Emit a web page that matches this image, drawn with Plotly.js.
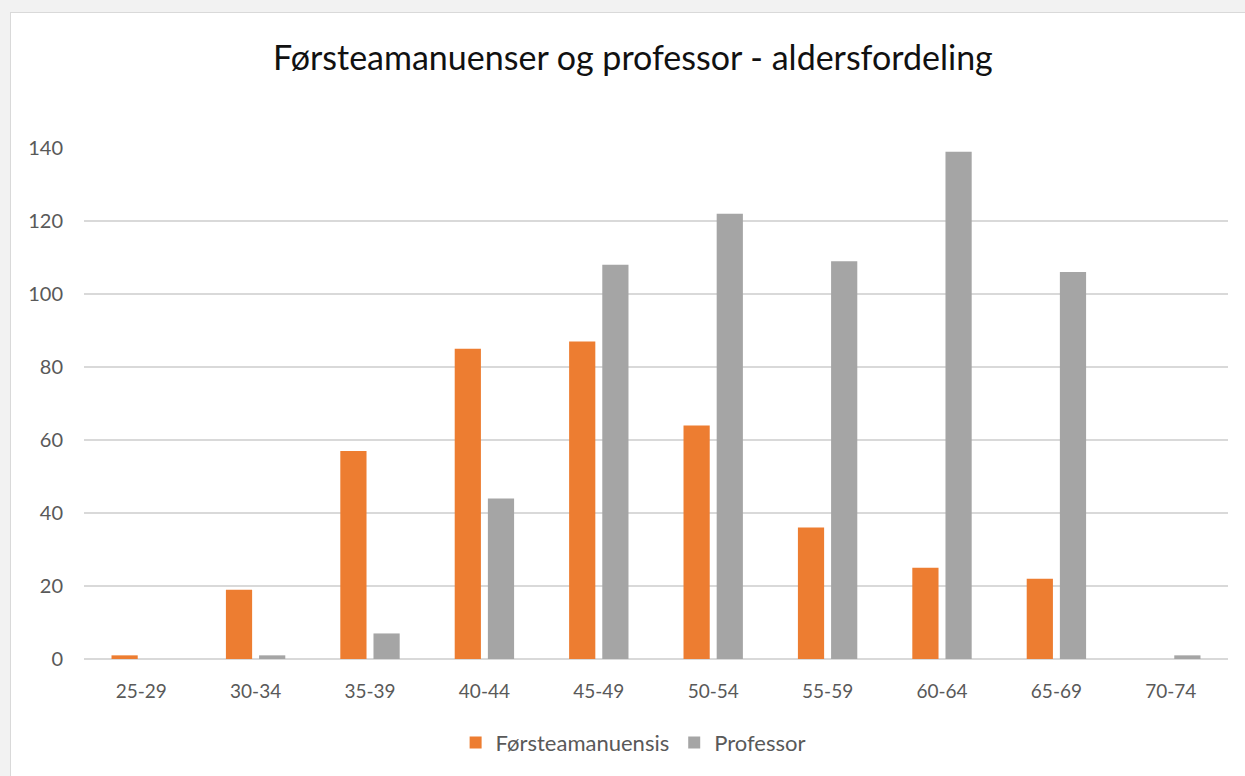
<!DOCTYPE html>
<html>
<head>
<meta charset="utf-8">
<script src="https://cdn.plot.ly/plotly-3.0.1.min.js"></script>
<style>
  html, body { margin: 0; padding: 0; background: #f2f2f2; width: 1245px; height: 776px; overflow: hidden; }
  #chart { position: absolute; left: 10px; top: 12px; width: 1235px; height: 764px; background: #ffffff;
           border-left: 1px solid #d9d9d9; border-top: 1px solid #d9d9d9; }
</style>
</head>
<body>
<div id="chart"></div>
<script>
const categories = ["25-29", "30-34", "35-39", "40-44", "45-49", "50-54", "55-59", "60-64", "65-69", "70-74"];
const forsteamanuensis = [1, 19, 57, 85, 87, 64, 36, 25, 22, 0];
const professor = [0, 1, 7, 44, 108, 122, 109, 139, 106, 1];
const yTicks = [0, 20, 40, 60, 80, 100, 120, 140];

const fontFam = "Lato, 'Liberation Sans', sans-serif";

const traces = [
  { type: "bar", name: "Førsteamanuensis", x: categories, y: forsteamanuensis,
    marker: { color: "#ED7D31" }, hoverinfo: "x+y" },
  { type: "bar", name: "Professor", x: categories, y: professor,
    marker: { color: "#A5A5A5" }, hoverinfo: "x+y" }
];

const layout = {
  width: 1234, height: 763,
  margin: { l: 73, r: 17, t: 135, b: 117 },
  paper_bgcolor: "#ffffff",
  plot_bgcolor: "#ffffff",
  font: { family: fontFam, color: "#595959", size: 18 },
  title: { text: "Førsteamanuenser og professor - aldersfordeling",
           font: { family: fontFam, size: 34, color: "#111111" },
           x: 0.504, xref: "container", xanchor: "center",
           y: 0.941, yref: "container", yanchor: "middle" },
  barmode: "group",
  bargap: 0.42,
  bargroupgap: 0.21,
  xaxis: { type: "category", showgrid: false, showline: false, zeroline: false,
           ticks: "outside", ticklen: 15, tickcolor: "rgba(0,0,0,0)",
           tickfont: { size: 19, color: "#595959" } },
  yaxis: { range: [0, 140], tickvals: yTicks, showgrid: true, gridcolor: "#d9d9d9", gridwidth: 1.5,
           zeroline: true, zerolinecolor: "#d9d9d9", zerolinewidth: 1.5, showline: false,
           ticklabelstandoff: 20, tickfont: { size: 20, color: "#595959" } },
  showlegend: true,
  legend: { orientation: "h", x: 0.48, xanchor: "center", y: -0.164, yanchor: "middle",
            font: { size: 22, color: "#595959" }, itemwidth: 30, traceorder: "normal" }
};

Plotly.newPlot("chart", traces, layout, { displayModeBar: false, staticPlot: true });
</script>
</body>
</html>
